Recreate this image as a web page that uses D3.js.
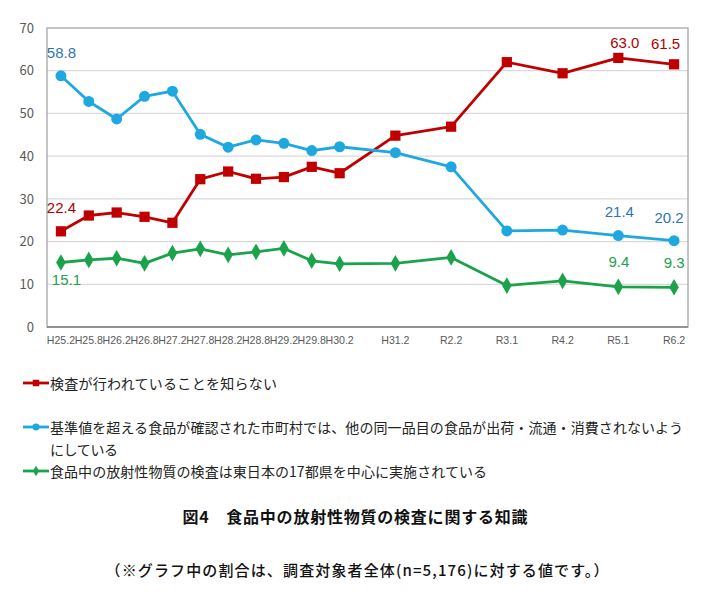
<!DOCTYPE html>
<html><head><meta charset="utf-8">
<script src="https://cdn.jsdelivr.net/npm/d3@7"></script>
<style>body{margin:0;background:#fff}svg{display:block}</style>
</head><body>
<svg id="c" width="720" height="597"></svg>
<script>
const categories = ["H25.2","H25.8","H26.2","H26.8","H27.2","H27.8","H28.2","H28.8","H29.2","H29.8","H30.2","","H31.2","","R2.2","","R3.1","","R4.2","","R5.1","","R6.2"];
const unaware   = [22.4,26.1,26.8,25.8,24.4,34.6,36.4,34.7,35.1,37.5,36.0,null,44.8,null,46.9,null,62.0,null,59.4,null,63.0,null,61.5];
const restricted= [58.8,52.8,48.7,54.0,55.2,45.1,42.1,43.8,43.0,41.3,42.2,null,40.8,null,37.5,null,22.5,null,22.7,null,21.4,null,20.2];
const inspected = [15.1,15.7,16.1,14.9,17.3,18.3,16.9,17.6,18.4,15.5,14.8,null,14.9,null,16.3,null,9.7,null,10.8,null,9.4,null,9.3];
const yTicks = [0,10,20,30,40,50,60,70];
const seriesNames = ["検査が行われていることを知らない",
  "基準値を超える食品が確認された市町村では、他の同一品目の食品が出荷・流通・消費されないよう|にしている",
  "食品中の放射性物質の検査は東日本の17都県を中心に実施されている"];
const titleText = "図4　食品中の放射性物質の検査に関する知識";
const noteText = "（※グラフ中の割合は、調査対象者全体(n=5,176)に対する値です。）";
// labelled points: [series, category]
const labelled = [[1,"H25.2"],[0,"H25.2"],[2,"H25.2"],[0,"R5.1"],[0,"R6.2"],[1,"R5.1"],[1,"R6.2"],[2,"R5.1"],[2,"R6.2"]];

const FONT = "'Noto Sans CJK JP','Noto Sans',sans-serif";
const svg = d3.select("#c");
const L=47,R=688,T=28,B=327;
const x = d3.scaleBand().domain(d3.range(categories.length)).range([L,R]).padding(0);
const cx = i => x(i)+x.bandwidth()/2;
const y = d3.scaleLinear().domain([0,70]).range([B,T]);

// grid
svg.append("g").selectAll("line").data(yTicks.filter(t=>t>0&&t<70)).join("line")
  .attr("x1",L).attr("x2",R).attr("y1",d=>y(d)).attr("y2",d=>y(d))
  .attr("stroke","#d9d9d9").attr("stroke-width",1.2);
svg.append("rect").attr("x",L).attr("y",T).attr("width",R-L).attr("height",B-T)
  .attr("fill","none").attr("stroke","#a6a6a6").attr("stroke-width",1.3);
svg.append("line").attr("x1",L).attr("x2",R).attr("y1",B).attr("y2",B).attr("stroke","#808080").attr("stroke-width",1.5);

// y axis
const yAxis = d3.axisLeft(y).tickValues(yTicks).tickSize(0).tickPadding(13);
const gy = svg.append("g").attr("transform",`translate(${L},0)`).call(yAxis);
gy.select(".domain").remove();
gy.selectAll("text").attr("font-family",FONT).attr("font-size",13).attr("fill","#595959");

// x axis
const xAxis = d3.axisBottom(x).tickFormat(i=>categories[i]).tickSize(0).tickPadding(9);
const gx = svg.append("g").attr("transform",`translate(0,${B})`).call(xAxis);
gx.select(".domain").remove();
gx.selectAll("text").attr("font-family","'Liberation Sans',Arial,sans-serif").attr("font-size",10.6).attr("fill","#595959");

const series = [
  {vals:unaware, color:"#c00000", label:"#b00000", shape:d3.symbolSquare, size:105},
  {vals:restricted, color:"#1fa8e0", label:"#2e75b6", shape:d3.symbolCircle, size:95},
  {vals:inspected, color:"#1aa34a", label:"#22a04a", shape:d3.symbolDiamond, size:80}
];
const line = d3.line().x(d=>cx(d.i)).y(d=>y(d.v));
series.forEach(s=>{
  const pts = s.vals.map((v,i)=>({v,i})).filter(d=>d.v!=null);
  svg.append("path").datum(pts).attr("d",line).attr("fill","none").attr("stroke",s.color).attr("stroke-width",2.8).attr("stroke-linejoin","round");
  svg.append("g").selectAll("path").data(pts).join("path")
    .attr("transform",d=>`translate(${cx(d.i)},${y(d.v)})`)
    .attr("d",d3.symbol().type(s.shape).size(s.size)).attr("fill",s.color);
});

// data labels
const offs = {"1H25.2":[0.5,-23],"0H25.2":[0.5,-24],"2H25.2":[5.5,17],"0R5.1":[6.5,-15],"0R6.2":[-8.5,-21],
  "1R5.1":[1,-24],"1R6.2":[-5,-23],"2R5.1":[0.5,-25],"2R6.2":[0,-25]};
labelled.forEach(([si,cat])=>{
  const i = categories.indexOf(cat); const s = series[si]; const v = s.vals[i];
  const o = offs[si+cat];
  svg.append("text").attr("x",cx(i)+o[0]).attr("y",y(v)+o[1]).attr("text-anchor","middle")
    .attr("dominant-baseline","central").attr("font-family","'Liberation Sans',Arial,sans-serif").attr("font-size",15)
    .attr("fill",s.label).text(v.toFixed(1));
});

// legend
const legY = [383,427,471];
const legW = [[227],[633,68],[437]];
series.forEach((s,k)=>{
  const g = svg.append("g");
  g.append("line").attr("x1",23).attr("x2",49).attr("y1",legY[k]).attr("y2",legY[k]).attr("stroke",s.color).attr("stroke-width",2.8);
  g.append("path").attr("transform",`translate(36,${legY[k]})`).attr("d",d3.symbol().type(s.shape).size(s.size*0.4)).attr("fill",s.color);
  seriesNames[k].split("|").forEach((t,j)=>{
    g.append("text").attr("x",50).attr("y",legY[k]+j*21.5).attr("dominant-baseline","central")
      .attr("font-family",FONT).attr("font-size",14).attr("fill","#222")
      .attr("textLength",legW[k][j]).attr("lengthAdjust","spacing").text(t);
  });
});

svg.append("text").attr("x",355).attr("y",516).attr("text-anchor","middle").attr("dominant-baseline","central")
  .attr("font-family",FONT).attr("font-size",16).attr("font-weight","bold").attr("fill","#111")
  .attr("textLength",345).attr("lengthAdjust","spacing").text(titleText);
svg.append("text").attr("x",357).attr("y",569).attr("text-anchor","middle").attr("dominant-baseline","central")
  .attr("font-family",FONT).attr("font-size",15).attr("font-weight",500).attr("fill","#111")
  .attr("textLength",503).attr("lengthAdjust","spacing").text(noteText);
</script>
</body></html>
